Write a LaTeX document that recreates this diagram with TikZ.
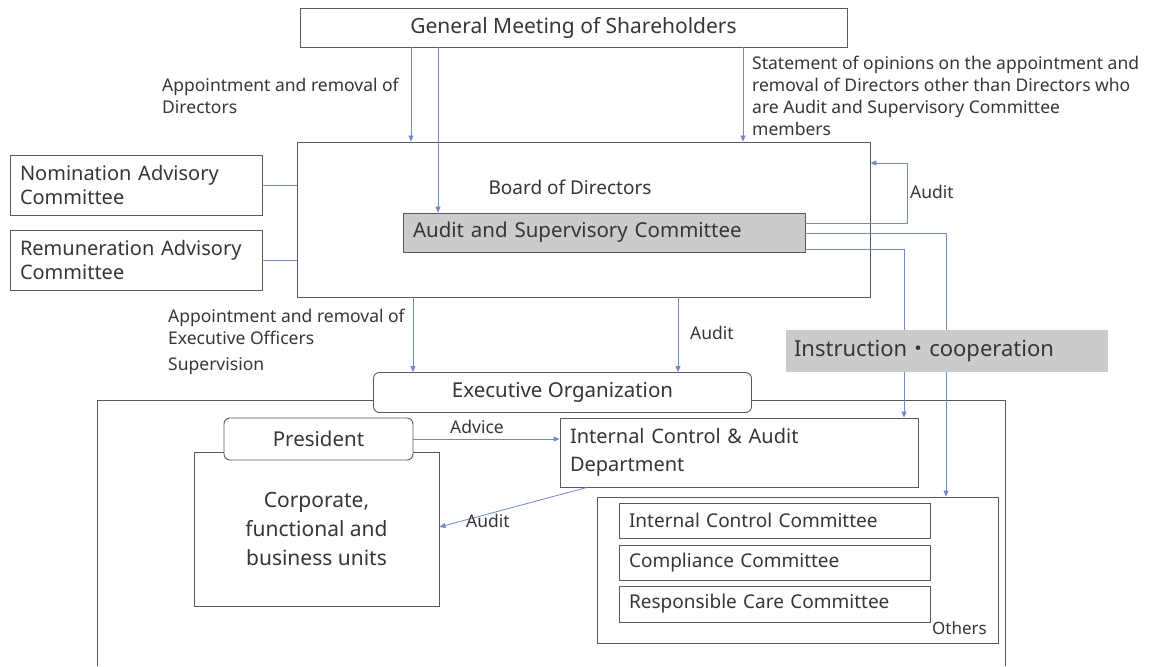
\documentclass[tikz,border=0pt]{standalone}
\usepackage{fontspec}
\setmainfont{Noto Sans}
\newfontfamily\cjk{Noto Sans CJK JP}
\usetikzlibrary{arrows.meta}
\definecolor{boxline}{HTML}{5A5A5A}
\definecolor{linkblue}{HTML}{6F8AC6}
\definecolor{txt}{HTML}{363636}
\definecolor{shade}{HTML}{CBCBCB}
\begin{document}
\begin{tikzpicture}[x=1pt,y=-1pt,
  box/.style={draw=boxline, line width=0.9pt, fill=white, text=txt, inner sep=0pt, rectangle},
  rbox/.style={box, rounded corners=6pt},
  link/.style={draw=linkblue, line width=0.8pt},
  arr/.style={link, -{Triangle[length=6pt,width=5pt]}},
  lbl/.style={text=txt, font=\fontsize{17.5}{22}\selectfont, inner sep=0pt, align=left, anchor=west}]
\useasboundingbox (0,0) rectangle (1166,666);

% frame of the executive organization (open at the bottom)
\draw[draw=boxline, line width=0.9pt] (97,666) -- (97,400) -- (1005,400) -- (1005,666);

% governance boxes
\node[box, font=\fontsize{21}{26}\selectfont, minimum width=547, minimum height=39] (gms) at (573.5,27.5) {General Meeting of Shareholders};
\node[box, minimum width=573, minimum height=155] (board) at (583.5,219.5) {};
\node[text=txt, font=\fontsize{19}{24}\selectfont, inner sep=0pt] (bodtitle) at (570,187) {Board of Directors};
\node[box, fill=shade, font=\fontsize{20.5}{26}\selectfont, minimum width=402, minimum height=39, text width=382, inner xsep=10pt, align=left] (asc) at (604,232.5) {Audit and Supervisory Committee};
\node[box, font=\fontsize{20}{24}\selectfont, minimum width=252, minimum height=60, text width=232, inner xsep=10pt, align=left] (nom) at (136,185) {Nomination Advisory\\Committee};
\node[box, font=\fontsize{20}{24}\selectfont, minimum width=252, minimum height=60, text width=232, inner xsep=10pt, align=left] (rem) at (136,260) {Remuneration Advisory\\Committee};

% executive side
\node[rbox, font=\fontsize{20.5}{26}\selectfont, minimum width=378, minimum height=40] (exec) at (562.5,392.5) {Executive Organization};
\node[box, font=\fontsize{21}{29}\selectfont, minimum width=245, minimum height=154, align=center] (units) at (316.5,529) {Corporate,\\functional and\\business units};
\node[rbox, font=\fontsize{20.5}{26}\selectfont, minimum width=189, minimum height=42] (pres) at (318.5,439) {President};
\node[box, font=\fontsize{20}{28}\selectfont, minimum width=358, minimum height=69, text width=338, inner xsep=10pt, align=left] (icad) at (739,452.5) {Internal Control \& Audit\\Department};
\node[box, minimum width=401, minimum height=146] (others) at (797.5,570) {};
\node[box, font=\fontsize{19}{24}\selectfont, minimum width=311, minimum height=35, text width=291, inner xsep=10pt, align=left] (icc) at (774.5,520.5) {Internal Control Committee};
\node[box, font=\fontsize{19}{24}\selectfont, minimum width=311, minimum height=35, text width=291, inner xsep=10pt, align=left] (cc) at (774.5,562.5) {Compliance Committee};
\node[box, font=\fontsize{19}{24}\selectfont, minimum width=311, minimum height=36, text width=291, inner xsep=10pt, align=left] (rcc) at (774.5,604) {Responsible Care Committee};
\node[lbl, font=\fontsize{17}{20}\selectfont] (oth) at (932,628) {Others};

% connectors from the shareholders
\draw[arr] (gms.south -| 411,0) -- (board.north -| 411,0);
\draw[arr] (gms.south -| 438,0) -- (asc.north -| 438,0);
\draw[arr] (gms.south -| 743,0) -- (board.north -| 743,0);
\node[lbl] (l1) at (162,96) {Appointment and removal of\\Directors};
\node[lbl] (l2) at (752,96) {Statement of opinions on the appointment and\\removal of Directors other than Directors who\\are Audit and Supervisory Committee\\members};

% advisory committees
\draw[link] (nom.east) -- (nom.east -| board.west);
\draw[link] (rem.east) -- (rem.east -| board.west);

% audit loop and instruction lines
\draw[arr] (asc.east |- 0,223) -- (907,223) -- (907,163) -- (board.east |- 0,163);
\node[lbl] (l3) at (910,192) {Audit};
\draw[arr] (asc.east |- 0,233) -- (946,233) -- (others.north -| 946,0);
\draw[arr] (asc.east |- 0,249) -- (904,249) -- (icad.north -| 904,0);

% board to executive organization
\draw[arr] (board.south -| 413,0) -- (exec.north -| 413,0);
\draw[arr] (board.south -| 678,0) -- (exec.north -| 678,0);
\node[lbl] (l4) at (168,327) {Appointment and removal of\\Executive Officers};
\node[lbl] (l5) at (168,366) {Supervision};
\node[lbl] (l6) at (690,333) {Audit};

% inside the executive organization
\draw[arr] (pres.east) -- (icad.west |- pres.east);
\node[lbl] (l7) at (450,427) {Advice};
\draw[arr] (icad.south -| 587,0) -- (units.east |- 0,527);
\node[lbl] (l8) at (466,521) {Audit};

% instruction and cooperation banner
\node[fill=shade, text=txt, font=\fontsize{22}{26}\selectfont, minimum width=322, minimum height=42, text width=306, inner xsep=8pt, inner ysep=0pt, align=left] (instr) at (947,351) {Instruction{\cjk ・}cooperation};
\end{tikzpicture}
\end{document}
